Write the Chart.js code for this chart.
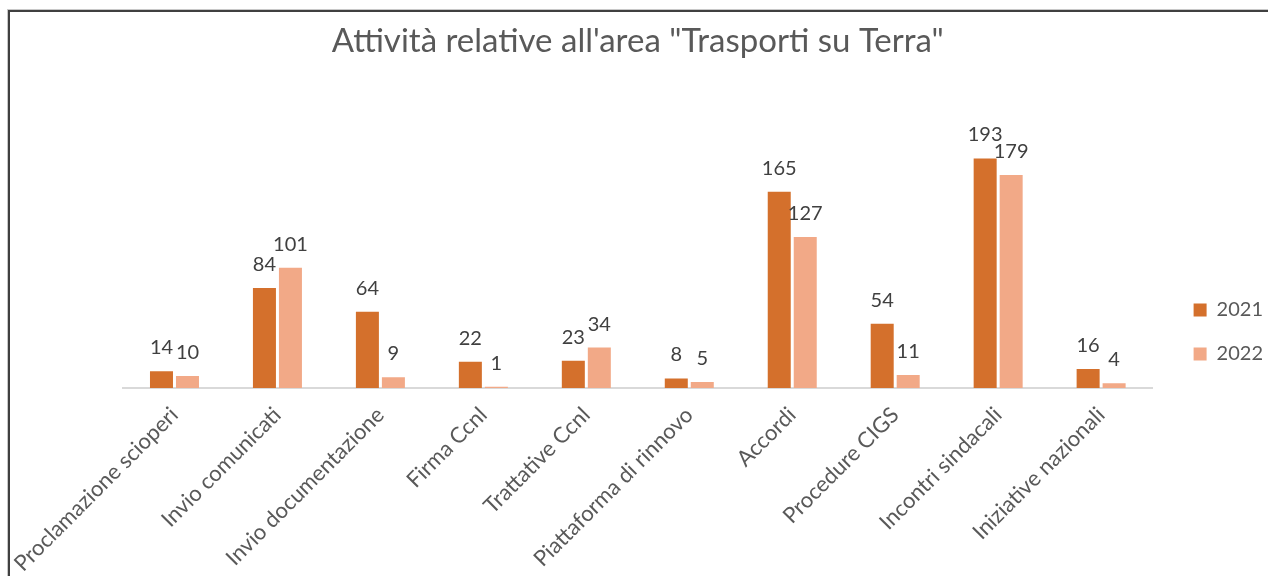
<!DOCTYPE html>
<html>
<head>
<meta charset="utf-8">
<script src="https://cdn.jsdelivr.net/npm/chart.js@4.4.0/dist/chart.umd.min.js"></script>
<style>
    body { margin: 0; background: #fff; overflow: hidden; }
    .frame {
        position: absolute; left: 8px; top: 10px; width: 1400px; height: 700px;
        border-left: 2px solid #404040; border-top: 2px solid #404040;
        box-shadow: -1px -1px 0 #c8c8c8;
    }
    .wrapper { position: absolute; left: 0; top: 0; width: 1268px; height: 576px; }
</style>
</head>
<body>
<div class="frame"></div>
<div class="wrapper">
    <canvas id="myChart" width="1268" height="576"></canvas>
</div>
<script>
// data
const categories = [
    'Proclamazione scioperi',
    'Invio comunicati',
    'Invio documentazione',
    'Firma Ccnl',
    'Trattative Ccnl',
    'Piattaforma di rinnovo',
    'Accordi',
    'Procedure CIGS',
    'Incontri sindacali',
    'Iniziative nazionali'
];
const seriesNames = ['2021', '2022'];
const values2021 = [14, 84, 64, 22, 23, 8, 165, 54, 193, 16];
const values2022 = [10, 101, 9, 1, 34, 5, 127, 11, 179, 4];
const seriesColors = ['#D4702C', '#F2A987'];

const FONT = 'Lato';

// draws the value above every bar
const barValueLabels = {
    id: 'barValueLabels',
    afterDatasetsDraw(chart) {
        const ctx = chart.ctx;
        ctx.save();
        ctx.font = '20px ' + FONT;
        ctx.fillStyle = '#404040';
        ctx.textAlign = 'center';
        ctx.textBaseline = 'alphabetic';
        chart.data.datasets.forEach((ds, i) => {
            chart.getDatasetMeta(i).data.forEach((bar, j) => {
                ctx.fillText(ds.data[j], bar.x, bar.y - 17);
            });
        });
        ctx.restore();
    }
};

const chartCtx = document.getElementById('myChart').getContext('2d');

new Chart(chartCtx, {
    type: 'bar',
    data: {
        labels: categories,
        datasets: [
            { label: seriesNames[0], data: values2021, backgroundColor: seriesColors[0] },
            { label: seriesNames[1], data: values2022, backgroundColor: seriesColors[1] }
        ]
    },
    options: {
        responsive: false,
        animation: false,
        categoryPercentage: 0.505,
        barPercentage: 0.885,
        layout: {
            padding: { left: 123, right: -5, top: 12, bottom: 0 }
        },
        scales: {
            x: {
                grid: { display: false },
                border: { color: '#D9D9D9', width: 2 },
                ticks: {
                    autoSkip: false,
                    minRotation: 45,
                    maxRotation: 45,
                    padding: 6,
                    color: '#595959',
                    font: { family: FONT, size: 22 }
                },
                afterFit(scale) { scale.height = 188; }
            },
            y: { display: false, min: 0, max: 250 },
            // empty axis, only keeps a gap between plot and legend
            gap: {
                type: 'linear',
                position: 'right',
                grid: { display: false },
                border: { display: false },
                ticks: { display: false },
                afterFit(scale) { scale.width = 17; }
            }
        },
        plugins: {
            title: {
                display: true,
                text: 'Attività relative all\'area "Trasporti su Terra"',
                fullSize: false,
                color: '#595959',
                font: { family: FONT, size: 33, weight: 'normal' },
                padding: { top: 10, bottom: 29 }
            },
            legend: {
                position: 'right',
                align: 'end',
                fullSize: false,
                labels: {
                    boxWidth: 13,
                    boxHeight: 13,
                    padding: 24,
                    color: '#595959',
                    font: { family: FONT, size: 20 }
                }
            },
            tooltip: { enabled: false }
        }
    },
    plugins: [barValueLabels]
});
</script>
</body>
</html>
